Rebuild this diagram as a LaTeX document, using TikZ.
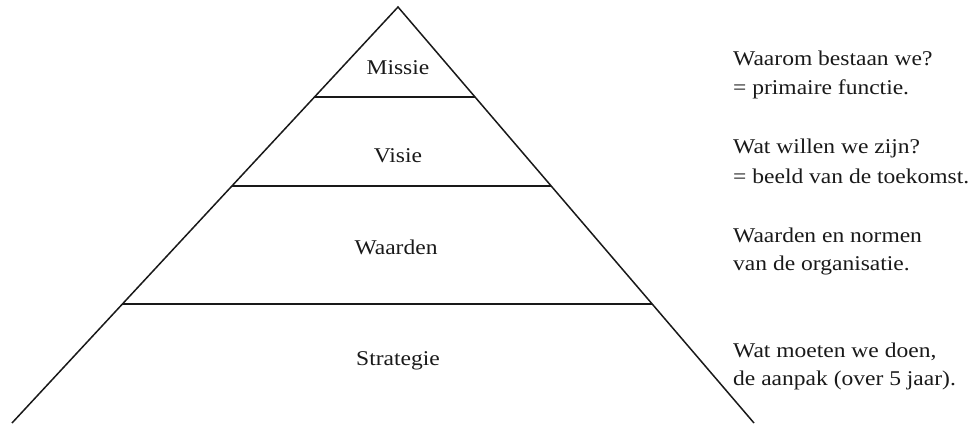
\documentclass[tikz,border=0pt]{standalone}
\usepackage{fontspec}
\setmainfont{Liberation Serif}[FakeStretch=1.12]
\usetikzlibrary{calc}
\begin{document}
\begin{tikzpicture}[x=1pt,y=-1pt,
  edge/.style={line width=1.5pt,black!90},
  lbl/.style={anchor=base,inner sep=0pt,font=\fontsize{21}{25}\selectfont,text=black!90},
  note/.style={anchor=base west,inner sep=0pt,font=\fontsize{21}{25}\selectfont,text=black!90}]
\useasboundingbox (0,0) rectangle (976,423);
\coordinate (apex) at (398,7);
\coordinate (bl) at (12,423);
\coordinate (br) at (754,423);
\draw[edge,line join=miter] (bl) -- (apex) -- (br);
\coordinate (l1) at ($(apex)!0.2163!(bl)$);
\coordinate (r1) at ($(apex)!0.2163!(br)$);
\coordinate (l2) at ($(apex)!0.4303!(bl)$);
\coordinate (r2) at ($(apex)!0.4303!(br)$);
\coordinate (l3) at ($(apex)!0.7139!(bl)$);
\coordinate (r3) at ($(apex)!0.7139!(br)$);
\draw[edge] (l1) -- (r1);
\draw[edge] (l2) -- (r2);
\draw[edge] (l3) -- (r3);
\node[lbl] (missie) at (398,74) {Missie};
\node[lbl] (visie) at (398,162) {Visie};
\node[lbl] (waarden) at (396,254) {Waarden};
\node[lbl] (strategie) at (398,365) {Strategie};
\node[note] (n1a) at (733,65) {Waarom bestaan we?};
\node[note] (n1b) at (733,94) {= primaire functie.};
\node[note] (n2a) at (733,153) {Wat willen we zijn?};
\node[note] (n2b) at (733,183) {= beeld van de toekomst.};
\node[note] (n3a) at (733,242) {Waarden en normen};
\node[note] (n3b) at (733,270) {van de organisatie.};
\node[note] (n4a) at (733,357) {Wat moeten we doen,};
\node[note] (n4b) at (733,385) {de aanpak (over 5 jaar).};
\end{tikzpicture}
\end{document}
